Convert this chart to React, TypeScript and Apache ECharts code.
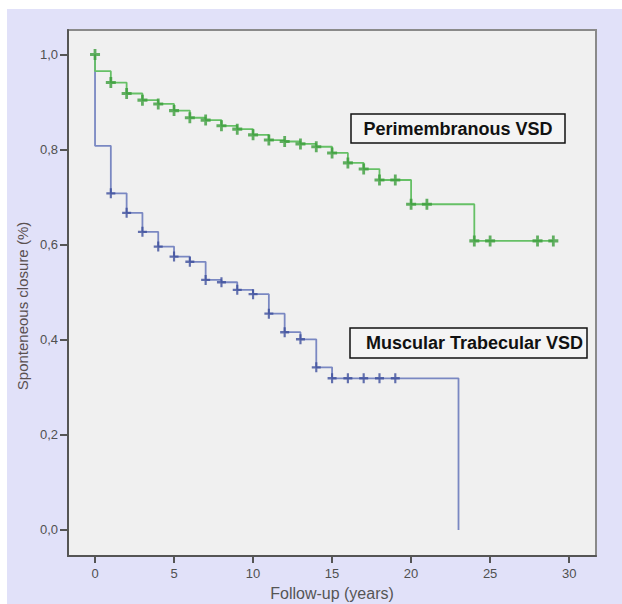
import React, { useEffect, useRef } from "react";
import * as echarts from "echarts";

// ---- Data ----
const xTicks = [0, 5, 10, 15, 20, 25, 30];
const yTicks = [0, 0.2, 0.4, 0.6, 0.8, 1.0];

const periLabel = "Perimembranous VSD";
const muscLabel = "Muscular Trabecular VSD";
const xTitle = "Follow-up (years)";
const yTitle = "Sponteneous closure (%)";

// Kaplan-Meier step curve points [time, survival after event]
const periCurve: [number, number][] = [
  [0, 1.0], [0, 0.965], [1, 0.941], [2, 0.918], [3, 0.904], [4, 0.896],
  [5, 0.882], [6, 0.867], [7, 0.862], [8, 0.85], [9, 0.843], [10, 0.831],
  [11, 0.82], [12, 0.817], [13, 0.812], [14, 0.806], [15, 0.793],
  [16, 0.772], [17, 0.759], [18, 0.736], [20, 0.685], [24, 0.608], [29, 0.608],
];
const periCensored: [number, number][] = [
  [0, 1.0], [1, 0.941], [2, 0.918], [3, 0.904], [4, 0.896], [5, 0.882],
  [6, 0.867], [7, 0.862], [8, 0.85], [9, 0.843], [10, 0.831], [11, 0.82],
  [12, 0.817], [13, 0.812], [14, 0.806], [15, 0.793], [16, 0.772],
  [17, 0.759], [18, 0.736], [19, 0.736], [20, 0.685], [21, 0.685],
  [24, 0.608], [25, 0.608], [28, 0.608], [29, 0.608],
];

const muscCurve: [number, number][] = [
  [0, 1.0], [0, 0.808], [1, 0.708], [2, 0.667], [3, 0.627], [4, 0.596],
  [5, 0.575], [6, 0.564], [7, 0.526], [8, 0.521], [9, 0.505], [10, 0.496],
  [11, 0.455], [12, 0.416], [13, 0.401], [14, 0.342], [15, 0.319],
  [23, 0.319], [23, 0.0],
];
const muscCensored: [number, number][] = [
  [1, 0.708], [2, 0.667], [3, 0.627], [4, 0.596], [5, 0.575], [6, 0.564],
  [7, 0.526], [8, 0.521], [9, 0.505], [10, 0.496], [11, 0.455], [12, 0.416],
  [13, 0.401], [14, 0.342], [15, 0.319], [16, 0.319], [17, 0.319],
  [18, 0.319], [19, 0.319],
];

// axis extents (the plot frame extends a little beyond the tick range)
const xMin = -1.71;
const xMax = 31.7;
const yMin = -0.0547;
const yMax = 1.0515;

const PLUS_THICK = "path://M3.6,0H6.4V3.6H10V6.4H6.4V10H3.6V6.4H0V3.6H3.6Z";
const PLUS = "path://M3.8,0H6.2V3.8H10V6.2H6.2V10H3.8V6.2H0V3.8H3.8Z";
const FONT = "'Liberation Sans', Arial, sans-serif";

export default function App() {
  const ref = useRef<HTMLDivElement>(null);

  useEffect(() => {
    if (!ref.current) return;
    const chart = echarts.init(ref.current, null, { renderer: "svg" });
    const fmt = (v: number) => v.toFixed(1).replace(".", ",");

    chart.setOption({
      animation: false,
      backgroundColor: "#ffffff",
      grid: {
        left: 68, right: 26, top: 30, bottom: 48, containLabel: false,
        show: true, backgroundColor: "#f0f0f0", borderColor: "#8a8a8a", borderWidth: 2,
      },
      xAxis: {
        type: "value",
        min: xMin,
        max: xMax,
        axisLine: { show: true, onZero: false, lineStyle: { color: "#555", width: 2 } },
        axisTick: { show: true, length: 7, customValues: xTicks, lineStyle: { color: "#555", width: 2 } },
        axisLabel: {
          color: "#505050",
          fontSize: 13,
          fontFamily: FONT,
          margin: 11,
          customValues: xTicks,
          formatter: (v: number) => String(Math.round(v)),
        },
        splitLine: { show: false },
      },
      yAxis: {
        type: "value",
        min: yMin,
        max: yMax,
        axisLine: { show: true, onZero: false, lineStyle: { color: "#555", width: 2 } },
        axisTick: { show: true, length: 8, customValues: yTicks, lineStyle: { color: "#555", width: 2 } },
        axisLabel: {
          color: "#505050",
          fontSize: 13,
          fontFamily: FONT,
          margin: 10,
          customValues: yTicks,
          formatter: (v: number) => fmt(v),
        },
        splitLine: { show: false },
      },
      graphic: [
        { type: "rect", z: -20, silent: true, shape: { x: 7, y: 9, width: 615, height: 595 }, style: { fill: "#e1e1f9" } },
        {
          type: "text", x: 22, y: 306, rotation: Math.PI / 2,
          style: { text: yTitle, fill: "#5a5050", font: `15px ${FONT}`, align: "center", verticalAlign: "middle" },
        },
        {
          type: "text", x: 332, y: 593,
          style: { text: xTitle, fill: "#555", font: `16px ${FONT}`, align: "center", verticalAlign: "middle" },
        },
        {
          type: "group", z: 20,
          children: [
            { type: "rect", shape: { x: 351, y: 114, width: 214, height: 29 }, style: { fill: "#f4f4f4", stroke: "#111", lineWidth: 1.5 } },
            { type: "text", x: 458, y: 129, style: { text: periLabel, fill: "#111", font: `bold 18px ${FONT}`, align: "center", verticalAlign: "middle" } },
          ],
        },
        {
          type: "group", z: 20,
          children: [
            { type: "rect", shape: { x: 350, y: 328, width: 237, height: 30 }, style: { fill: "#f4f4f4", stroke: "#111", lineWidth: 1.5 } },
            { type: "text", x: 583, y: 343, style: { text: muscLabel, fill: "#111", font: `bold 18px ${FONT}`, align: "right", verticalAlign: "middle" } },
          ],
        },
      ],
      series: [
        {
          name: muscLabel,
          type: "line",
          step: "end",
          data: muscCurve,
          showSymbol: false,
          lineStyle: { color: "#7a88c2", width: 1.8 },
          z: 3,
        },
        {
          name: periLabel,
          type: "line",
          step: "end",
          data: periCurve,
          showSymbol: false,
          lineStyle: { color: "#66c066", width: 1.8 },
          z: 4,
        },
        {
          name: muscLabel + " censored",
          type: "scatter",
          data: muscCensored,
          symbol: PLUS,
          symbolSize: [9, 10],
          itemStyle: { color: "#3d4f9c" },
          z: 5,
        },
        {
          name: periLabel + " censored",
          type: "scatter",
          data: periCensored,
          symbol: PLUS_THICK,
          symbolSize: [10, 11],
          itemStyle: { color: "#3c9e3c" },
          z: 6,
        },
      ],
    });

    return () => chart.dispose();
  }, []);

  return (
    <div
      ref={ref}
      style={{ position: "fixed", left: 0, top: 0, width: 622, height: 604 }}
    />
  );
}
